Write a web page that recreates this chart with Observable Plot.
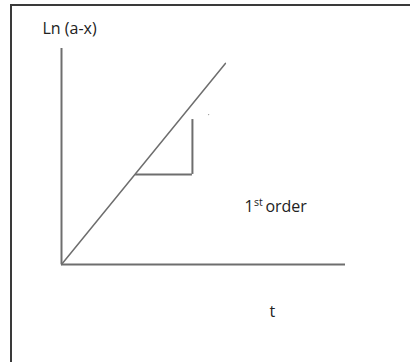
<!DOCTYPE html>
<html>
<head>
<meta charset="utf-8">
<script src="https://cdn.jsdelivr.net/npm/d3@7"></script>
<script src="https://cdn.jsdelivr.net/npm/@observablehq/plot@0.6"></script>
<style>
  html, body { margin: 0; padding: 0; background: #fff; }
  #wrap { position: relative; width: 410px; height: 362px; overflow: hidden; }
  #frame { position: absolute; left: 10px; top: 4px; width: 500px; height: 500px;
           border-left: 2px solid #3a3a3a; border-top: 2px solid #3a3a3a; }
  #chart { position: absolute; left: 0; top: 0; }
</style>
</head>
<body>
<div id="wrap"><div id="frame"></div><div id="chart"></div></div>
<script>
// Straight line: ln(a-x) vs t (first-order kinetics)
const lineT = [0, 5.77];
const lineLn = [0, 9.31];
// Slope triangle
const triT = [2.61, 4.61];
const triLn = [4.17, 6.71];
// Stray dot
const dotT = [5.18];
const dotLn = [6.94];
// Labels
const labelText = ["Ln (a-x)", "1", "st", "order", "t"];
const labelT = [-0.67, 6.44, 6.44, 7.18, 7.32];
const labelLn = [10.69, 2.45, 2.45, 2.45, -2.41];

const lineData = lineT.map((t, i) => ({t, ln: lineLn[i]}));
const labels = labelText.map((s, i) => ({s, t: labelT[i], ln: labelLn[i]}));
const font = "'Open Sans', sans-serif";

const plot = Plot.plot({
  width: 410,
  height: 362,
  marginLeft: 61,
  marginRight: 65,
  marginTop: 48,
  marginBottom: 98,
  x: {domain: [0, 10], axis: null},
  y: {domain: [0, 10], axis: null},
  style: {background: "transparent", fontFamily: font},
  marks: [
    Plot.ruleY([0], {x1: 0, x2: 10, stroke: "#6e6e6e", strokeWidth: 2}),
    Plot.ruleX([0], {y1: 0, y2: 10, stroke: "#6e6e6e", strokeWidth: 2}),
    Plot.line(lineData, {x: "t", y: "ln", stroke: "#6e6e6e", strokeWidth: 1.5}),
    Plot.ruleY([triLn[0]], {x1: triT[0], x2: triT[1], stroke: "#6e6e6e", strokeWidth: 2}),
    Plot.ruleX([triT[1]], {y1: triLn[0], y2: triLn[1], stroke: "#6e6e6e", strokeWidth: 2}),
    Plot.dot(dotT.map((t, i) => ({t, ln: dotLn[i]})), {x: "t", y: "ln", r: 0.7, fill: "#999", stroke: null}),
    Plot.text(labels.filter(d => d.s !== "st"), {
      x: "t", y: "ln", text: "s", textAnchor: "start", lineAnchor: "bottom",
      fontSize: 16, fill: "#222"
    }),
    Plot.text(labels.filter(d => d.s === "st"), {
      x: "t", y: "ln", text: "s", textAnchor: "start", lineAnchor: "bottom",
      fontSize: 10.5, fill: "#222", dx: 9.5, dy: -6
    })
  ]
});
document.getElementById("chart").appendChild(plot);
</script>
</body>
</html>
